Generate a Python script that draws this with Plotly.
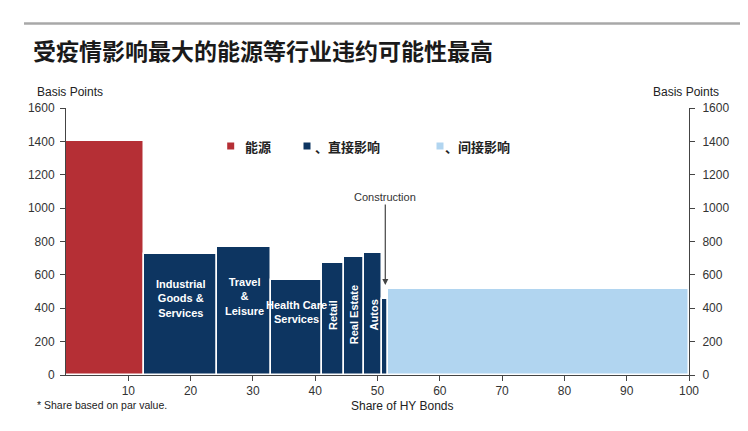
import plotly.graph_objects as go
import numpy as np

# ---- data ----
sectors = ["能源", "Industrial Goods & Services", "Travel & Leisure", "Health Care Services",
           "Retail", "Real Estate", "Autos", "Construction", "间接影响"]
bar_labels = ["", "Industrial<br>Goods &<br>Services", "Travel<br>&<br>Leisure",
              "Health Care<br>Services", "Retail", "Real Estate", "Autos", "", ""]
share = [12.5, 11.8, 8.6, 8.2, 3.55, 3.25, 2.9, 0.9, 48.3]          # share of HY bonds (%)
spread = [1400, 725, 765, 570, 670, 705, 730, 455, 515]             # basis points
impact = ["energy", "direct", "direct", "direct", "direct", "direct", "direct", "direct", "indirect"]

legend_names = {"energy": "能源", "direct": "、直接影响", "indirect": "、间接影响"}
y_ticks = [0, 200, 400, 600, 800, 1000, 1200, 1400, 1600]
x_ticks = [10, 20, 30, 40, 50, 60, 70, 80, 90, 100]

colors = {"energy": "#b52f35", "direct": "#0d3561", "indirect": "#b1d5f0"}

W, H = 748, 431
OFF = 8  # page body margin
# plot area in reference pixel coordinates
RL, RR, RT, RB = 66, 689, 108, 375
PW, PH = RR - RL, RB - RT
L, T = RL - OFF, RT - OFF
R, B = W - L - PW, H - T - PH


def px(xp):
    return (xp - RL) / PW


def py(yp):
    return (RB - yp) / PH


edges = np.concatenate([[0], np.cumsum(share)])
centers = (edges[:-1] + edges[1:]) / 2

fig = go.Figure()
fig.add_trace(go.Bar(
    x=centers, y=spread, width=share,
    marker=dict(color=[colors[g] for g in impact], line=dict(color="white", width=1.5)),
    showlegend=False, hoverinfo="skip",
))
fig.add_trace(go.Scatter(x=[50], y=[0], yaxis="y2", mode="markers",
                         marker=dict(opacity=0), showlegend=False, hoverinfo="skip"))

# bar labels
label_y = {"Industrial Goods & Services": 460, "Travel & Leisure": 470,
           "Health Care Services": 378, "Retail": 360, "Real Estate": 360, "Autos": 360}
rot = {"Retail": -90, "Real Estate": -90, "Autos": -90}
for s, lab, c in zip(sectors, bar_labels, centers):
    if not lab:
        continue
    fig.add_annotation(x=c, y=label_y[s], text="<b>" + lab + "</b>", showarrow=False,
                       textangle=rot.get(s, 0),
                       font=dict(family="Arial, Liberation Sans", size=11, color="white"))

# construction arrow
ci = sectors.index("Construction")
fig.add_annotation(x=centers[ci], y=540, text="Construction", showarrow=True,
                   ax=0, ay=-88, arrowhead=2, arrowsize=1, arrowwidth=1.2,
                   arrowcolor="#444", font=dict(family="Arial, Liberation Sans", size=11, color="#333"))

# legend (squares + text)
legend_pos = {"energy": (230.7, 243), "direct": (307, 313), "indirect": (440, 443)}
for g in ["energy", "direct", "indirect"]:
    sx, tx = legend_pos[g]
    fig.add_shape(type="rect", xref="paper", yref="paper",
                  x0=px(sx - 3.5), x1=px(sx + 3.5), y0=py(149.5), y1=py(142.5),
                  fillcolor=colors[g], line=dict(width=0))
    fig.add_annotation(xref="paper", yref="paper", x=px(tx), y=py(146), xanchor="left",
                       yanchor="middle", text="<b>" + legend_names[g] + "</b>", showarrow=False,
                       font=dict(family="Noto Sans CJK SC", size=13, color="#222"))

# top rule
fig.add_shape(type="rect", xref="paper", yref="paper", layer="above",
              x0=px(24), x1=px(740), y0=py(24.8), y1=py(22.2),
              fillcolor="#a8a8a8", line=dict(width=0))

txt_font = dict(family="Arial, Liberation Sans", size=12, color="#222")
fig.add_annotation(xref="paper", yref="paper", x=px(35), y=py(92), xanchor="left",
                   yanchor="middle", text="Basis Points", showarrow=False, font=txt_font)
fig.add_annotation(xref="paper", yref="paper", x=px(721), y=py(92), xanchor="right",
                   yanchor="middle", text="Basis Points", showarrow=False, font=txt_font)
fig.add_annotation(xref="paper", yref="paper", x=px(402), y=py(406), xanchor="center",
                   yanchor="middle", text="Share of HY Bonds", showarrow=False, font=txt_font)
fig.add_annotation(xref="paper", yref="paper", x=px(35), y=py(405), xanchor="left",
                   yanchor="middle", text="* Share based on par value.", showarrow=False,
                   font=dict(family="Arial, Liberation Sans", size=10.5, color="#222"))

axis_common = dict(showgrid=False, zeroline=False, showline=True, linecolor="#444", linewidth=1,
                   ticks="outside", ticklen=5, tickcolor="#444",
                   tickfont=dict(family="Arial, Liberation Sans", size=12, color="#333"))

fig.update_layout(
    width=W, height=H,
    margin=dict(l=L, r=R, t=T, b=B),
    paper_bgcolor="white", plot_bgcolor="white",
    title=dict(text="<b>受疫情影响最大的能源等行业违约可能性最高</b>",
               x=(33 - OFF) / W, xanchor="left", xref="container",
               y=1 - (52 - OFF) / H, yanchor="middle", yref="container",
               font=dict(family="Noto Sans CJK SC", size=23, color="#1a1a1a")),
    xaxis=dict(range=[0, 100], tickvals=x_ticks, **axis_common),
    yaxis=dict(range=[0, 1600], tickvals=y_ticks, ticklabelstandoff=3, **axis_common),
    yaxis2=dict(range=[0, 1600], tickvals=y_ticks, overlaying="y", side="right", anchor="x",
                ticklabelstandoff=5, **axis_common),
    bargap=0,
)

fig.write_html("out.html", config={"displayModeBar": False})
